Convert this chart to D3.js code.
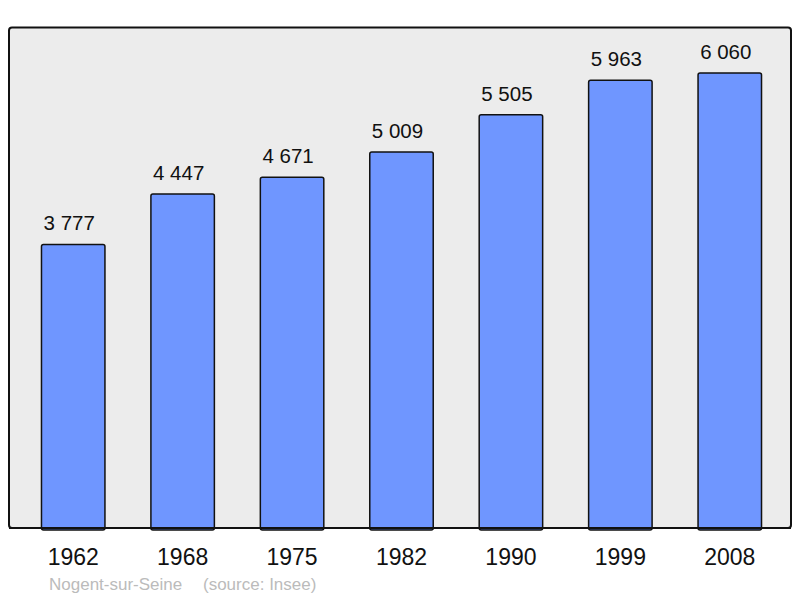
<!DOCTYPE html>
<html>
<head>
<meta charset="utf-8">
<script src="https://cdn.jsdelivr.net/npm/d3@7"></script>
<style>
  html, body { margin: 0; padding: 0; background: #fff; }
  svg { display: block; font-family: "Liberation Sans", Arial, sans-serif; }
</style>
</head>
<body>
<script>
const years = ["1962", "1968", "1975", "1982", "1990", "1999", "2008"];
const population = [3777, 4447, 4671, 5009, 5505, 5963, 6060];
const valueLabels = ["3 777", "4 447", "4 671", "5 009", "5 505", "5 963", "6 060"];
const townName = "Nogent-sur-Seine";
const sourceText = "(source: Insee)";

const W = 800, H = 598;
const svg = d3.select("body").append("svg").attr("width", W).attr("height", H);

// panel
svg.append("rect")
  .attr("x", 9).attr("y", 27.5).attr("width", 782).attr("height", 500.5)
  .attr("rx", 3).attr("ry", 3)
  .attr("fill", "#ececec").attr("stroke", "#111").attr("stroke-width", 2);

const x = d3.scaleBand().domain(years).range([18, 784]).paddingInner(0.42).paddingOuter(0.21);
const y = d3.scaleLinear().domain([0, 6060]).range([528, 73]);

const data = years.map((yr, i) => ({ year: yr, value: population[i], label: valueLabels[i] }));

svg.append("g").selectAll("rect").data(data).join("rect")
  .attr("x", d => x(d.year) + 0.5)
  .attr("y", d => y(d.value))
  .attr("width", x.bandwidth())
  .attr("height", d => y(0) - y(d.value) + 2)
  .attr("rx", 2).attr("ry", 2)
  .attr("fill", "#6f96ff")
  .attr("stroke", "#111").attr("stroke-width", 1.5);

// redraw panel bottom edge over bars
svg.append("line")
  .attr("x1", 9).attr("x2", 791).attr("y1", 528).attr("y2", 528)
  .attr("stroke", "#111").attr("stroke-width", 2);

svg.append("g").selectAll("text").data(data).join("text")
  .attr("x", d => x(d.year) + x.bandwidth() / 2 - 3.5)
  .attr("y", d => y(d.value) - 14)
  .attr("text-anchor", "middle")
  .attr("font-size", 20.5)
  .attr("fill", "#111")
  .text(d => d.label);

// x axis labels
const xAxis = d3.axisBottom(x).tickSize(0).tickPadding(0);
const ax = svg.append("g").attr("transform", "translate(0.5,528)").call(xAxis);
ax.select(".domain").remove();
ax.selectAll("text")
  .attr("font-size", 23)
  .attr("font-family", "Liberation Sans, Arial, sans-serif")
  .attr("fill", "#111")
  .attr("dy", null)
  .attr("y", 37);

svg.append("text")
  .attr("x", 49).attr("y", 590)
  .attr("font-size", 17).attr("fill", "#bbbbbb")
  .text(townName);
svg.append("text")
  .attr("x", 203).attr("y", 590)
  .attr("font-size", 17).attr("fill", "#bbbbbb")
  .text(sourceText);
</script>
</body>
</html>
